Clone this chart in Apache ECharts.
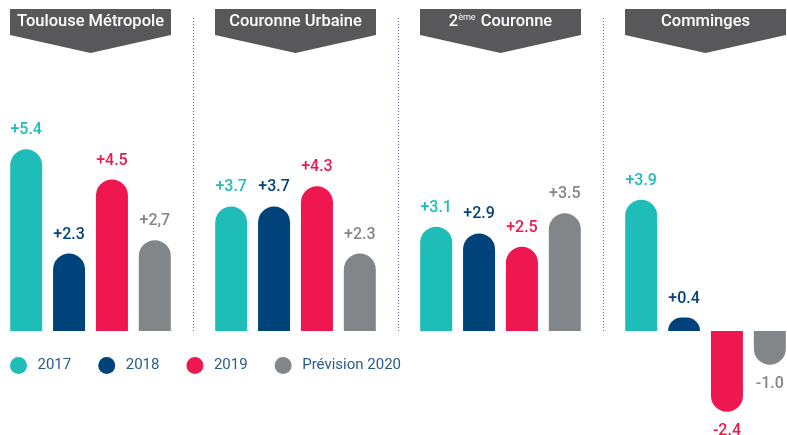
<!DOCTYPE html>
<html>
<head>
<meta charset="utf-8">
<script src="https://cdn.jsdelivr.net/npm/echarts@6/dist/echarts.min.js"></script>
<style>
  html, body { margin: 0; padding: 0; background: #fff; }
  #main { width: 787px; height: 435px; }
</style>
</head>
<body>
<div id="main"></div>
<script>
// régions et années
const regions = ['Toulouse Métropole', 'Couronne Urbaine', '2ème Couronne', 'Comminges'];
const years = ['2017', '2018', '2019', 'Prévision 2020'];

// valeurs (%)
const v2017 = [5.4, 3.7, 3.1, 3.9];
const v2018 = [2.3, 3.7, 2.9, 0.4];
const v2019 = [4.5, 4.3, 2.5, -2.4];
const v2020 = [2.7, 2.3, 3.5, -1.0];
const labels2020 = ['+2,7', '+2.3', '+3.5', '-1.0'];

const colors = ['#1ebdb7', '#00427a', '#ee174f', '#838689'];
const headerColor = '#58585a';

var chart = echarts.init(document.getElementById('main'));

function fmt(v) {
  return (v > 0 ? '+' : '') + v.toFixed(1);
}

function makeSeries(name, values, color, labels) {
  return {
    name: name,
    type: 'bar',
    clip: false,
    barWidth: 32,
    barGap: '34%',
    itemStyle: { color: color },
    data: values.map(function (v) {
      return {
        value: v,
        itemStyle: { borderRadius: v >= 0 ? [16, 16, 0, 0] : [0, 0, 16, 16] },
        label: { position: v >= 0 ? 'top' : 'bottom' }
      };
    }),
    label: {
      show: true,
      distance: 11,
      color: color,
      fontFamily: 'Roboto',
      fontSize: 16,
      fontWeight: 500,
      formatter: function (p) {
        return labels ? labels[p.dataIndex] : fmt(p.value);
      }
    }
  };
}

var option = {
  animation: false,
  backgroundColor: '#fff',
  color: colors,
  legend: {
    data: years,
    left: 5,
    top: 352,
    icon: 'circle',
    itemWidth: 28,
    itemHeight: 17,
    itemGap: 27,
    textStyle: { color: '#2a5b8d', fontFamily: 'Roboto', fontSize: 15 }
  },
  grid: { left: -12, width: 820, top: 18, height: 313, outerBoundsMode: 'none', containLabel: false },
  xAxis: {
    type: 'category',
    data: regions,
    axisLine: { show: false },
    axisTick: { show: false },
    axisLabel: { show: false },
    splitLine: {
      show: true,
      interval: 0,
      lineStyle: { color: '#4f76aa', type: [1, 2], width: 1 }
    }
  },
  yAxis: { type: 'value', min: 0, max: 9.3, show: false },
  series: [
    makeSeries(years[0], v2017, colors[0]),
    makeSeries(years[1], v2018, colors[1]),
    makeSeries(years[2], v2019, colors[2]),
    makeSeries(years[3], v2020, colors[3], labels2020)
  ]
};
chart.setOption(option);

// bandeaux des titres, placés sur les catégories de l'axe
var half = 80.5;
var graphics = [];
regions.forEach(function (r, i) {
  var cx = chart.convertToPixel({ xAxisIndex: 0 }, r);
  var x0 = cx - half, x1 = cx + half;
  graphics.push({
    type: 'polygon',
    shape: { points: [[x0, 9], [x1, 9], [x1, 35], [cx, 53], [x0, 35]] },
    style: { fill: headerColor }
  });
  graphics.push({
    type: 'text',
    x: cx,
    y: 22,
    style: {
      text: r.replace('ème', '{s|ème}'),
      fill: '#fff',
      font: '500 16.5px Roboto',
      align: 'center',
      verticalAlign: 'middle',
      rich: {
        s: { fontSize: 9, fontFamily: 'Roboto', fill: '#fff', padding: [0, 1, 9, 0] }
      }
    }
  });
});
chart.setOption({ graphic: graphics });
</script>
</body>
</html>
